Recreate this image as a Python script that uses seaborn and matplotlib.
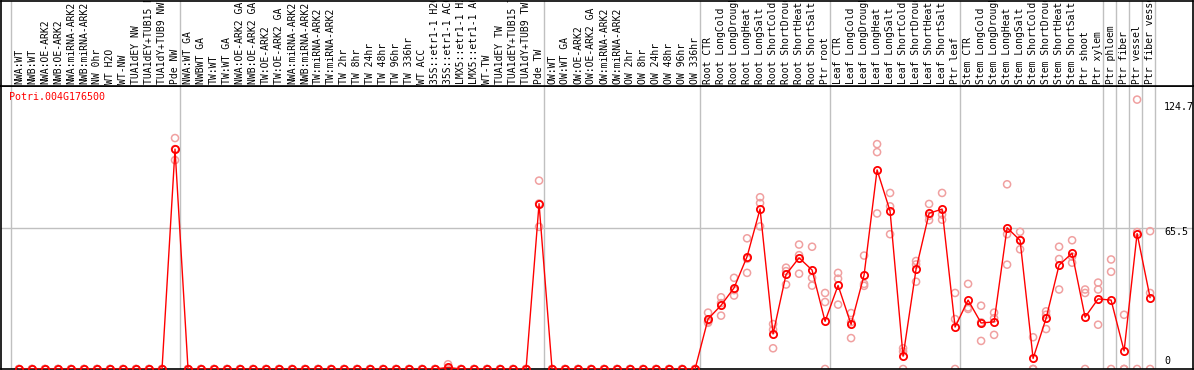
"""Expression profile for one poplar gene across sample sets"""

import numpy as np
import pandas as pd
import matplotlib
matplotlib.use("Agg")
import matplotlib.pyplot as plt
import seaborn as sns

GENE = "Potri.004G176500"

samples = [
    "NWA:WT", "NWB:WT", "NWA:OE-ARK2", "NWB:OE-ARK2", "NWA:miRNA-ARK2",
    "NWB:miRNA-ARK2", "NW 0hr", "WT H2O", "WT-NW", "TUA1dEY NW",
    "TUA1dEY+TUB15 NW", "TUA1dY+TUB9 NW", "Pde NW",
    "NWA:WT GA", "NWBWT GA", "TW:WT", "TW:WT GA", "NWA:OE-ARK2 GA",
    "NWB:OE-ARK2 GA", "TW:OE-ARK2", "TW:OE-ARK2 GA", "NWA:miRNA-ARK2",
    "NWB:miRNA-ARK2", "TW:miRNA-ARK2", "TW:miRNA-ARK2", "TW 2hr", "TW 8hr",
    "TW 24hr", "TW 48hr", "TW 96hr", "TW 336hr", "WT ACC", "35S::etr1-1 H2O",
    "35S::etr1-1 ACC", "LMX5::etr1-1 H2O", "LMX5::etr1-1 ACC", "WT-TW",
    "TUA1dEY TW", "TUA1dEY+TUB15 TW", "TUA1dY+TUB9 TW", "Pde TW",
    "OW:WT", "OW:WT GA", "OW:OE-ARK2", "OW:OE-ARK2 GA", "OW:miRNA-ARK2",
    "OW:miRNA-ARK2", "OW 2hr", "OW 8hr", "OW 24hr", "OW 48hr", "OW 96hr",
    "OW 336hr",
    "Root CTR", "Root LongCold", "Root LongDrought", "Root LongHeat",
    "Root LongSalt", "Root ShortCold", "Root ShortDrought", "Root ShortHeat",
    "Root ShortSalt", "Ptr root",
    "Leaf CTR", "Leaf LongCold", "Leaf LongDrought", "Leaf LongHeat",
    "Leaf LongSalt", "Leaf ShortCold", "Leaf ShortDrought", "Leaf ShortHeat",
    "Leaf ShortSalt", "Ptr leaf",
    "Stem CTR", "Stem LongCold", "Stem LongDrought", "Stem LongHeat",
    "Stem LongSalt", "Stem ShortCold", "Stem ShortDrought", "Stem ShortHeat",
    "Stem ShortSalt", "Ptr shoot",
    "Ptr xylem", "Ptr phloem", "Ptr fiber", "Ptr vessel", "Ptr fiber vessel",
]

# three replicates per sample
rep_a = [
    0, 0, 0, 0, 0, 0, 0, 0, 0, 0, 0, 0, 106.9,
    0, 0, 0, 0, 0, 0, 0, 0, 0, 0, 0, 0, 0, 0, 0, 0, 0, 0, 0, 0, 2.2, 0, 0,
    0, 0, 0, 0, 87.2,
    0, 0, 0, 0, 0, 0, 0, 0, 0, 0, 0, 0,
    26.1, 33.2, 42.2, 60.5, 79.5, 20.8, 46.9, 57.6, 56.6, 35.2,
    44.5, 25.9, 52.5, 104.1, 81.5, 9.6, 50.0, 76.4, 81.5, 35.2,
    39.4, 29.3, 26.1, 85.5, 63.5, 14.7, 26.7, 56.6, 59.6, 36.8,
    40.0, 50.7, 25.1, 124.7, 63.8,
]
rep_b = [
    0, 0, 0, 0, 0, 0, 0, 0, 0, 0, 0, 0, 101.8,
    0, 0, 0, 0, 0, 0, 0, 0, 0, 0, 0, 0, 0, 0, 0, 0, 0, 0, 0, 0, 0, 0, 0,
    0, 0, 0, 0, 76.6,
    0, 0, 0, 0, 0, 0, 0, 0, 0, 0, 0, 0,
    22.0, 30.5, 36.5, 51.0, 76.8, 18.2, 45.3, 52.7, 42.2, 31.0,
    41.8, 21.7, 39.4, 100.4, 75.3, 8.1, 48.4, 70.9, 71.5, 23.1,
    28.5, 21.6, 23.5, 62.4, 59.7, 0, 25.1, 50.9, 52.0, 35.2,
    36.8, 45.0, 0, 63.4, 35.2,
]
rep_c = [
    0, 0, 0, 0, 0, 0, 0, 0, 0, 0, 0, 0, 96.7,
    0, 0, 0, 0, 0, 0, 0, 0, 0, 0, 0, 0, 0, 0, 0, 0, 0, 0, 0, 0, 0, 0, 0,
    0, 0, 0, 0, 65.8,
    0, 0, 0, 0, 0, 0, 0, 0, 0, 0, 0, 0,
    21.4, 24.7, 34.0, 44.5, 66.0, 9.6, 39.1, 44.1, 38.6, 0,
    29.8, 14.3, 38.5, 72.0, 62.4, 0, 40.4, 68.9, 69.1, 0,
    27.8, 13.0, 15.8, 48.3, 55.4, 0, 18.5, 36.8, 49.2, 0,
    20.5, 0, 0, 0, 0,
]

group_breaks = [-0.6, 12.4, 40.4, 52.4, 62.4, 72.4, 83.4, 84.4, 85.4, 86.4, 87.4]
y_marks = ["124.7", "65.5", "0"]

W, H = 1194, 370


def main():
    sns.set_style("white")
    plt.rcParams["font.family"] = ["DejaVu Sans Mono", "DejaVu Sans"]

    pos = np.arange(len(samples))
    reps = pd.DataFrame({"pos": np.tile(pos, 3), "value": rep_a + rep_b + rep_c})
    means = reps.groupby("pos", as_index=False)["value"].mean()

    fig = plt.figure(figsize=(W / 100, H / 100), dpi=100)
    ax = fig.add_axes([1 / W, 1 / H, (W - 2) / W, 283 / H])
    top = fig.add_axes([1 / W, 284 / H, (W - 2) / W, 85.5 / H], sharex=ax)

    for a in (ax, top):
        for x in group_breaks:
            a.axvline(x, color="#c0c0c0", lw=1, zorder=0)
        for s in a.spines.values():
            s.set_color("black")
            s.set_linewidth(1.2)
            s.set_visible(True)
        a.set_xticks([])
        a.set_yticks([])

    ax.axhline(65.5, color="#c0c0c0", lw=1, zorder=0)

    sns.scatterplot(data=reps, x="pos", y="value", ax=ax, marker="o", s=26,
                    facecolor="none", edgecolor="#f0a0a0", linewidth=1.1, zorder=2)
    sns.lineplot(data=means, x="pos", y="value", ax=ax, color="red", lw=1,
                 marker="o", markersize=5.2, markerfacecolor="none",
                 markeredgecolor="red", markeredgewidth=1.3, zorder=3)

    ax.set_xlim(-1.385, 90.3)
    ax.set_ylim(0, 131)
    ax.set_xlabel("")
    ax.set_ylabel("")
    top.set_ylim(0, 1)

    # sample names, clipped at the top edge like the original
    for i, name in enumerate(samples):
        top.text(i, 0.025, name, rotation=90, ha="center", va="bottom",
                 fontsize=7, color="black", clip_on=True)

    fig.text(9 / W, 1 - 97 / H, GENE, color="red", fontsize=7.2, va="center")
    for lab, yp in zip(y_marks, [107.5, 232, 361.5]):
        fig.text(1164 / W, 1 - yp / H, lab, color="black", fontsize=7.2, va="center")

    fig.savefig("out.png", dpi=100)
    plt.close(fig)


if __name__ == "__main__":
    main()
